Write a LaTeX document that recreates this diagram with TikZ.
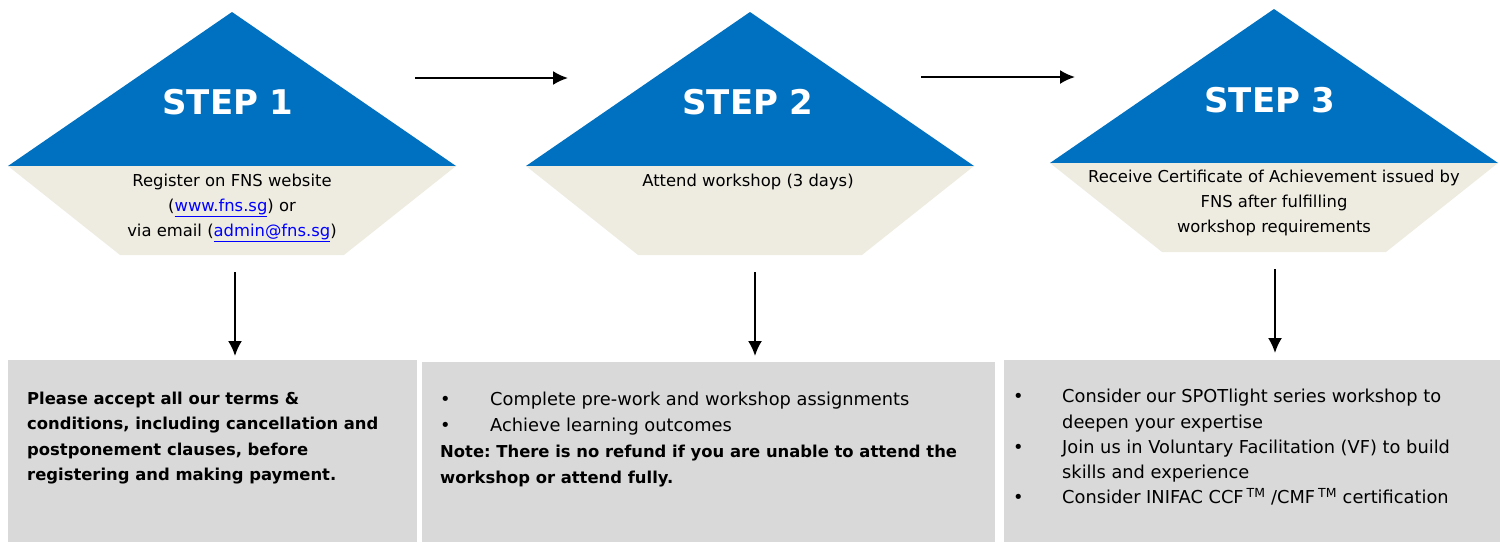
\documentclass[tikz,border=0pt]{standalone}
\usepackage{fontspec}
\setmainfont{DejaVu Sans}
\usepackage{xcolor}
\usetikzlibrary{arrows.meta,positioning,calc}
\definecolor{StepBlue}{HTML}{0070C0}
\definecolor{StepBeige}{HTML}{EEECE1}
\definecolor{PanelGray}{HTML}{D9D9D9}
\definecolor{LinkBlue}{HTML}{0000FF}
\newcommand{\weblink}[1]{\textcolor{LinkBlue}{\underline{#1}}}
\newcommand{\itembullet}[1]{\makebox[#1][l]{\textbullet}}
\newcommand{\boldnote}{\fontsize{16.4}{26}\selectfont\bfseries}
\frenchspacing

\begin{document}
\begin{tikzpicture}[x=1pt,y=-1pt,>={Latex[length=15pt,width=14pt]}]
\tikzstyle{head}=[fill=StepBlue]
\tikzstyle{foot}=[fill=StepBeige]
\tikzstyle{steplabel}=[text=white,font=\fontsize{34}{36}\selectfont\bfseries]
\tikzstyle{desc}=[anchor=north,align=center,inner sep=0pt,
                  font=\fontsize{16.4}{24.8}\selectfont]
\tikzstyle{panel}=[anchor=north west,fill=PanelGray,inner sep=0pt]
\tikzstyle{note}=[anchor=north west,align=left,inner sep=0pt,
                  font=\fontsize{17.8}{26}\selectfont]
\tikzstyle{flow}=[->,line width=2pt]
\useasboundingbox (0,0) rectangle (1500,542);
% arrow-head shapes of the three steps
\foreach \cx/\ty in {232/12,750/12,1274/9}{
  \fill[head] (\cx,\ty) -- ++(224,154) -- ++(-448,0) -- cycle;
  \fill[foot] (\cx-224,\ty+154) -- ++(448,0) -- ++(-112,89) -- ++(-224,0) -- cycle;
}
\node[steplabel] (s1) at (228,102) {STEP 1};
\node[steplabel] (s2) at (748,102) {STEP 2};
\node[steplabel] (s3) at (1270,100) {STEP 3};
\node[desc] (d1) at (232,174)
  {Register on FNS website\\(\weblink{www.fns.sg}) or\\via email (\weblink{admin@fns.sg})};
\node[desc] (d2) at (748,174) {Attend workshop (3 days)};
\node[desc] (d3) at (1274,170)
  {Receive Certificate of Achievement issued by\\FNS after fulfilling\\workshop requirements};
% grey panels
\node[panel,minimum width=409pt,minimum height=182pt] (b1) at (8,360) {};
\node[panel,minimum width=573pt,minimum height=180pt] (b2) at (422,362) {};
\node[panel,minimum width=496pt,minimum height=182pt] (b3) at (1004,360) {};
\node[note,font=\fontsize{16.4}{25.2}\selectfont\bfseries] (n1) at (27,392)
  {Please accept all our terms \&\\conditions, including cancellation and\\
   postponement clauses, before\\registering and making payment.};
\node[note] (n2) at (440,392)
  {\itembullet{50pt}Complete pre-work and workshop assignments\\
   \itembullet{50pt}Achieve learning outcomes\\
   {\boldnote Note: There is no refund if you are unable to attend the}\\
   {\boldnote workshop or attend fully.}};
\node[note,font=\fontsize{17.8}{25.3}\selectfont] (n3) at (1013,389)
  {\itembullet{49pt}Consider our SPOTlight series workshop to\\
   \hspace*{49pt}deepen your expertise\\
   \itembullet{49pt}Join us in Voluntary Facilitation (VF) to build\\
   \hspace*{49pt}skills and experience\\
   \itembullet{49pt}Consider INIFAC CCF\,\textsuperscript{TM} /CMF\,\textsuperscript{TM} certification};
% connectors
\coordinate (h1) at (415,78);
\coordinate (h2) at (921,77);
\draw[flow] (h1) -- ++(153,0);
\draw[flow] (h2) -- ++(154,0);
\coordinate (v1) at (235,272);
\coordinate (v2) at (755,272);
\coordinate (v3) at (1275,269);
\draw[flow] (v1) -- ($(v1 |- b1.north)+(0,-4)$);
\draw[flow] (v2) -- ($(v2 |- b2.north)+(0,-6)$);
\draw[flow] (v3) -- ($(v3 |- b3.north)+(0,-7)$);
\end{tikzpicture}
\end{document}
